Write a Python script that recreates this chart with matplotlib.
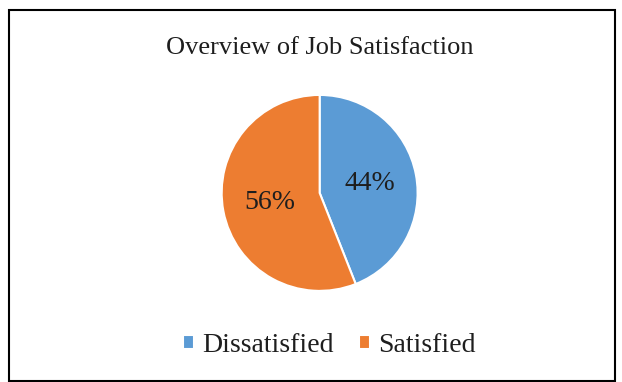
import matplotlib
matplotlib.use("Agg")
import matplotlib.pyplot as plt
from matplotlib.patches import Rectangle

# data
labels = ["Dissatisfied", "Satisfied"]
shares = [44, 56]
colors = ["#5B9BD5", "#ED7D31"]
title = "Overview of Job Satisfaction"

plt.rcParams['font.family'] = ['Liberation Serif', 'DejaVu Serif']

fig = plt.figure(figsize=(6.22, 3.82), dpi=100)
fig.patch.set_facecolor("white")

# chart border
fig.patches.append(Rectangle((0.0145, 0.003), 0.974, 0.971, transform=fig.transFigure,
                             fill=False, edgecolor="black", linewidth=1.5))

ax = fig.add_axes([0.514 - 0.1576, 0.495 - 0.2565, 0.315, 0.513])
wedges, texts, autotexts = ax.pie(shares, colors=colors, startangle=90, counterclock=False,
                                  autopct="%d%%", pctdistance=0.52,
                                  wedgeprops={"edgecolor": "white", "linewidth": 1.5},
                                  textprops={"fontsize": 20, "color": "#1e1e1e"})
ax.set_xlim(-1.0, 1.0)
ax.set_ylim(-1.0, 1.0)
ax.set_aspect("equal")

fig.text(0.514, 1 - 48 / 382, title, ha="center", va="center", fontsize=19, color="#1e1e1e")

fig.legend(wedges, labels, loc="center", bbox_to_anchor=(0.529, 1 - 345 / 382), ncol=2,
           frameon=False, fontsize=20, handlelength=0.4, handleheight=0.4,
           handletextpad=0.3, columnspacing=0.9, labelcolor="#1e1e1e")

fig.savefig("out.png", dpi=100)
